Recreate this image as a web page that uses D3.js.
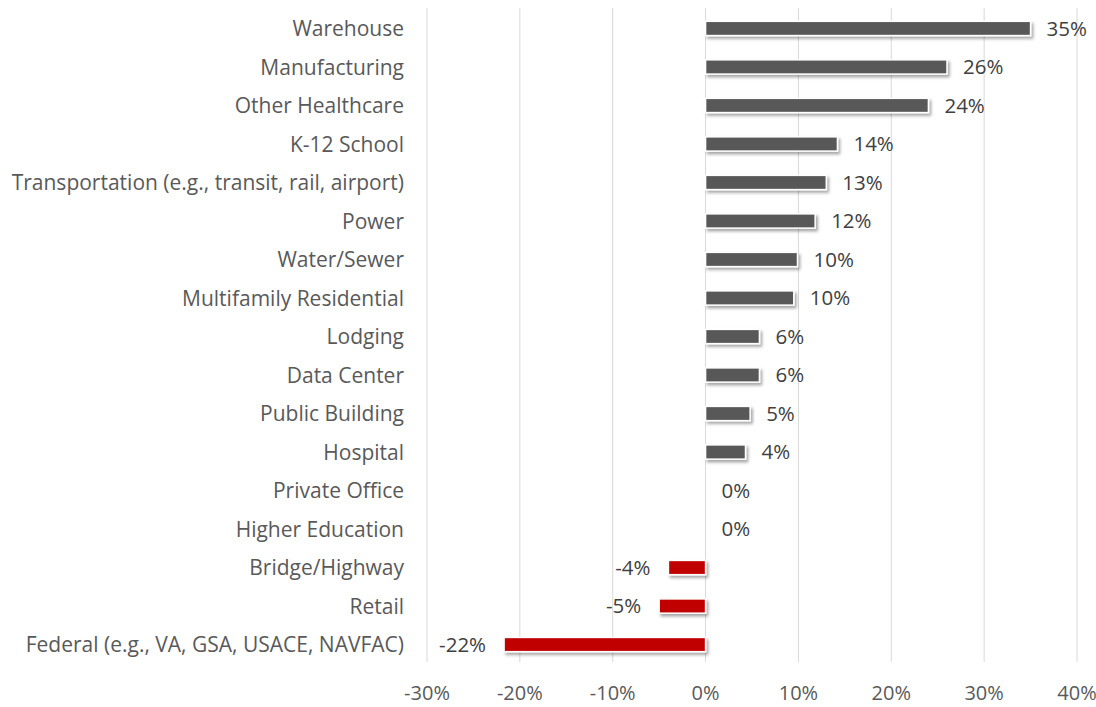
<!DOCTYPE html>
<html>
<head>
<meta charset="utf-8">
<script src="https://cdn.jsdelivr.net/npm/d3@7"></script>
<style>
  body { margin: 0; background: #fff; }
  text { font-family: "Open Sans", Lato, sans-serif; }
</style>
</head>
<body>
<script>
// categories top to bottom
const categories = [
  "Warehouse", "Manufacturing", "Other Healthcare", "K-12 School",
  "Transportation (e.g., transit, rail, airport)", "Power", "Water/Sewer",
  "Multifamily Residential", "Lodging", "Data Center", "Public Building",
  "Hospital", "Private Office", "Higher Education", "Bridge/Highway",
  "Retail", "Federal (e.g., VA, GSA, USACE, NAVFAC)"
];
const values = [35, 26, 24, 14.2, 13, 11.8, 9.9, 9.5, 5.8, 5.8, 4.8, 4.3, 0, 0, -4, -5, -21.7];
const labels = ["35%", "26%", "24%", "14%", "13%", "12%", "10%", "10%", "6%", "6%", "5%", "4%", "0%", "0%", "-4%", "-5%", "-22%"];
const ticks = [-30, -20, -10, 0, 10, 20, 30, 40];

const width = 1096, height = 707;
const svg = d3.select("body").append("svg")
    .attr("width", width)
    .attr("height", height);

// soft shadow under the bars
const f = svg.append("defs").append("filter")
    .attr("id", "shadow")
    .attr("x", "-10%").attr("y", "-50%")
    .attr("width", "130%").attr("height", "220%");
f.append("feDropShadow")
    .attr("dx", 2).attr("dy", 2.5)
    .attr("stdDeviation", 1.6)
    .attr("flood-color", "#000")
    .attr("flood-opacity", 0.35);

let x = d3.scaleLinear().domain([-30, 40]).range([427, 1077]);
let y = d3.scaleBand().domain(categories).range([9, 664]).paddingInner(0.63).paddingOuter(0.32);

// gridlines
svg.append("g").selectAll("line")
    .data(ticks)
    .enter().append("line")
        .attr("x1", d => x(d)).attr("x2", d => x(d))
        .attr("y1", 8).attr("y2", 662)
        .attr("stroke", "#d9d9d9")
        .attr("stroke-width", 1);

// x tick labels
svg.append("g").selectAll("text")
    .data(ticks)
    .enter().append("text")
        .attr("x", d => x(d))
        .attr("y", 700)
        .attr("text-anchor", "middle")
        .attr("font-size", 20)
        .attr("fill", "#595959")
        .text(d => d + "%");

// category labels
svg.append("g").selectAll("text")
    .data(categories)
    .enter().append("text")
        .attr("x", 404)
        .attr("y", d => y(d) + y.bandwidth() / 2)
        .attr("dy", "0.36em")
        .attr("text-anchor", "end")
        .attr("font-size", 21)
        .attr("fill", "#595959")
        .text(d => d);

// bars
svg.append("g").selectAll("rect")
    .data(categories.map((c, i) => ({ c, v: values[i] })).filter(d => d.v !== 0))
    .enter().append("rect")
        .attr("x", d => x(Math.min(0, d.v)))
        .attr("y", d => y(d.c))
        .attr("width", d => Math.abs(x(d.v) - x(0)))
        .attr("height", y.bandwidth())
        .attr("fill", d => d.v < 0 ? "#c00000" : "#595959")
        .attr("stroke", "#fff")
        .attr("stroke-width", 1.5)
        .attr("filter", "url(#shadow)");

// value labels
svg.append("g").selectAll("text")
    .data(categories.map((c, i) => ({ c, v: values[i], l: labels[i] })))
    .enter().append("text")
        .attr("x", d => d.v < 0 ? x(d.v) - 18 : x(d.v) + 16)
        .attr("y", d => y(d.c) + y.bandwidth() / 2)
        .attr("dy", "0.36em")
        .attr("text-anchor", d => d.v < 0 ? "end" : "start")
        .attr("font-size", 20.5)
        .attr("fill", "#404040")
        .text(d => d.l);
</script>
</body>
</html>
